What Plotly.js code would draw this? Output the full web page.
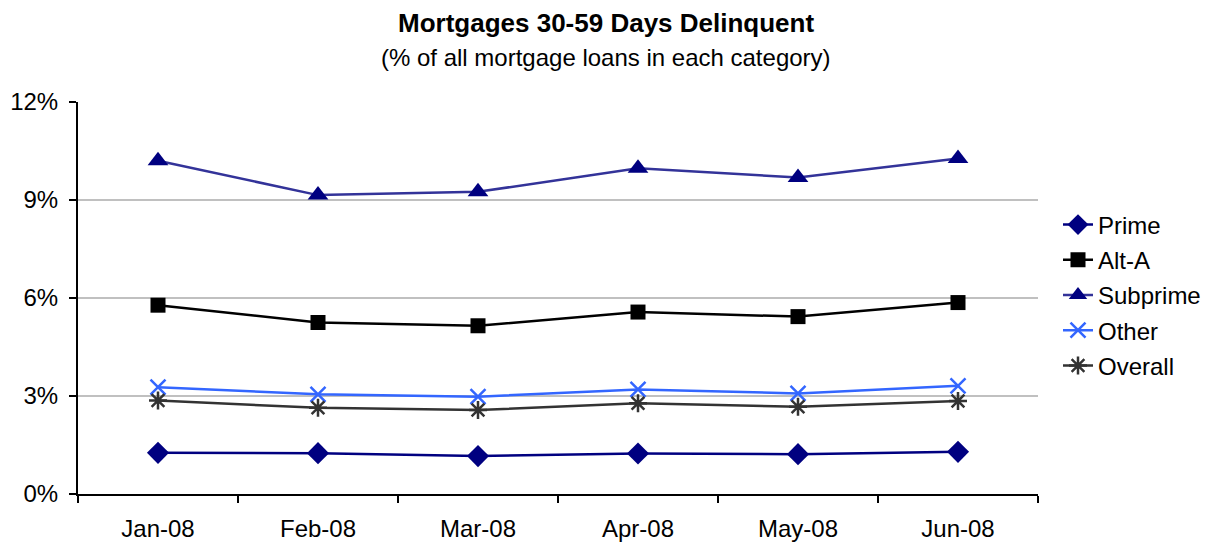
<!DOCTYPE html>
<html>
<head>
<meta charset="utf-8">
<script src="https://cdn.plot.ly/plotly-3.0.1.min.js"></script>
<style>html,body{margin:0;padding:0;background:#fff}#chart{width:1212px;height:542px}</style>
</head>
<body>
<div id="chart"></div>
<script>
const months = ["Jan-08","Feb-08","Mar-08","Apr-08","May-08","Jun-08"];
const prime = [1.26, 1.25, 1.16, 1.24, 1.22, 1.29];
const altA = [5.78, 5.25, 5.15, 5.57, 5.43, 5.86];
const subprime = [10.20, 9.15, 9.25, 9.97, 9.69, 10.27];
const other = [3.27, 3.05, 2.98, 3.20, 3.08, 3.31];
const overall = [2.86, 2.64, 2.57, 2.78, 2.67, 2.85];
const yTicks = [0, 3, 6, 9, 12];
const yTickLabels = ["0%", "3%", "6%", "9%", "12%"];
const titleText = "Mortgages 30-59 Days Delinquent";
const subtitleText = "(% of all mortgage loans in each category)";

const font = "Liberation Sans, Arial, sans-serif";
function tr(name, y, lineColor, markerColor, symbol, size, mline) {
  return {
    x: months, y: y, name: name, legendgroup: name, type: "scatter", mode: "lines+markers",
    line: {color: lineColor, width: 2.5},
    marker: {symbol: symbol, size: size, color: markerColor,
             line: mline ? {color: markerColor, width: mline} : {width: 0}}
  };
}
const data = [
  tr("Prime", prime, "#000080", "#000080", "diamond", 17),
  tr("Alt-A", altA, "#000000", "#000000", "square", 15),
  tr("Subprime", subprime, "#333399", "#000080", "triangle-up", 18),
  tr("Other", other, "#3366FF", "#3366FF", "x-thin-open", 15, 2.5),
  tr("Overall", overall, "#333333", "#333333", "asterisk-open", 15, 2.5)
];
const layout = {
  width: 1212, height: 542,
  margin: {l: 78, r: 174, t: 102, b: 48, autoexpand: false},
  paper_bgcolor: "#fff", plot_bgcolor: "#fff",
  font: {family: font, color: "#000", size: 24},
  annotations: [
    {text: "<b>" + titleText + "</b>", xref: "paper", yref: "paper", x: (606 - 78) / 960, xanchor: "center",
     y: (494 - 23) / 392, yanchor: "middle", showarrow: false, font: {size: 26, color: "#000"}},
    {text: subtitleText, xref: "paper", yref: "paper", x: (606 - 78) / 960, xanchor: "center",
     y: (494 - 58) / 392, yanchor: "middle", showarrow: false, font: {size: 24, color: "#000"}}
  ],
  xaxis: {type: "category", showgrid: false, showline: true, linecolor: "#000", linewidth: 2,
          ticks: "outside", tickson: "boundaries", ticklen: 7, tickwidth: 2, tickcolor: "#000",
          tickfont: {size: 24}, ticklabelstandoff: 12, range: [-0.5, 5.5]},
  yaxis: {range: [0, 12], tickvals: yTicks, ticktext: yTickLabels, showgrid: true, gridcolor: "#c0c0c0", gridwidth: 2,
          showline: true, linecolor: "#000", linewidth: 2, ticks: "outside", ticklen: 7, tickwidth: 2, tickcolor: "#000",
          tickfont: {size: 24}, ticklabelstandoff: 6, zeroline: false},
  legend: {x: 1.0 + 20 / 960, xanchor: "left", y: (494 - 295) / 392, yanchor: "middle", font: {size: 24}, tracegroupgap: 1,
           bgcolor: "rgba(0,0,0,0)"},
  showlegend: true
};
Plotly.newPlot("chart", data, layout, {displayModeBar: false, staticPlot: true});
</script>
</body>
</html>
